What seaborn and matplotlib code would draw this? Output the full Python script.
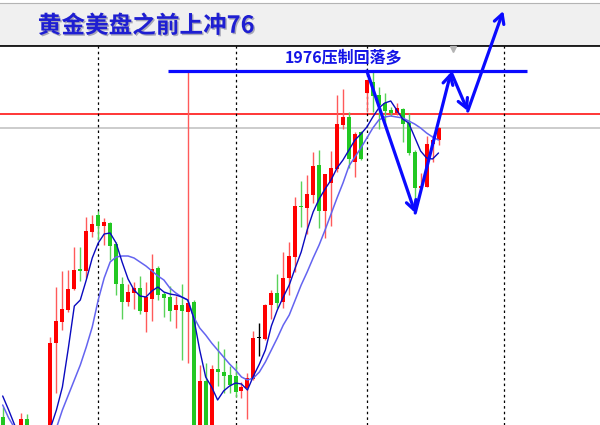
import numpy as np
import pandas as pd

import matplotlib
matplotlib.use("Agg")
import matplotlib.pyplot as plt
import matplotlib.patheffects as pe
import seaborn as sns

#####################################
### DATA
#####################################
opens = [1889.5, 1886.25, 1883.75, 1885.75, 1889.0, 1885.75, 1882.25, 1883.75, 1882.25, 1908.0,
         1913.25, 1916.25, 1921.5, 1926.5, 1926.0, 1935.75, 1940.0, 1937.25, 1938.0, 1932.75,
         1922.75, 1918.25, 1920.5, 1921.75, 1915.75, 1919.0, 1926.75, 1920.25, 1919.5, 1916.25,
         1917.5, 1915.75, 1918.25, 1883.75, 1898.5, 1883.75, 1901.5, 1900.75, 1900.0, 1899.75,
         1896.0, 1896.75, 1899.0, 1909.25, 1909.0, 1917.5, 1920.5, 1918.25, 1924.25, 1929.5,
         1942.25, 1941.75, 1945.0, 1952.5, 1941.0, 1948.0, 1951.5, 1962.5, 1964.5, 1953.25,
         1960.75, 1970.5, 1973.25, 1970.0, 1968.0, 1966.25, 1965.5, 1966.5, 1963.0, 1955.75,
         1946.75, 1947.0, 1957.75, 1958.75]
highs = [1892.0, 1887.0, 1885.75, 1890.5, 1890.25, 1886.75, 1884.75, 1885.5, 1909.5, 1922.0,
         1926.0, 1926.25, 1932.0, 1932.0, 1939.5, 1940.0, 1941.0, 1939.25, 1938.25, 1933.25,
         1924.5, 1922.75, 1923.25, 1924.75, 1923.25, 1930.25, 1927.25, 1920.75, 1922.25, 1919.75,
         1922.75, 1976.0, 1918.75, 1902.5, 1903.0, 1902.5, 1908.5, 1906.5, 1902.25, 1903.0,
         1898.25, 1900.5, 1911.0, 1913.0, 1917.75, 1921.25, 1925.25, 1930.75, 1933.25, 1944.5,
         1948.5, 1950.0, 1955.75, 1956.25, 1950.25, 1956.0, 1970.0, 1971.5, 1965.75, 1960.75,
         1961.0, 1973.75, 1975.75, 1972.0, 1970.5, 1967.0, 1968.0, 1966.75, 1965.5, 1956.25,
         1950.5, 1959.75, 1960.0, 1962.0]
lows = [1885.0, 1882.25, 1881.25, 1884.25, 1884.75, 1880.75, 1879.25, 1880.75, 1881.25, 1895.5,
        1911.25, 1915.75, 1921.25, 1923.5, 1924.25, 1934.5, 1933.75, 1932.5, 1928.75, 1920.0,
        1914.0, 1917.25, 1916.5, 1915.25, 1910.75, 1913.5, 1918.75, 1914.5, 1913.5, 1911.75,
        1903.75, 1903.0, 1881.25, 1881.75, 1881.25, 1881.75, 1897.25, 1895.5, 1895.5, 1894.5,
        1894.25, 1889.0, 1898.75, 1904.75, 1908.75, 1914.0, 1916.75, 1916.75, 1920.0, 1925.75,
        1937.0, 1935.25, 1943.0, 1936.75, 1934.25, 1937.25, 1950.75, 1961.5, 1951.75, 1949.5,
        1953.75, 1965.75, 1965.75, 1961.5, 1962.5, 1964.75, 1965.0, 1958.25, 1955.0, 1943.75,
        1946.75, 1947.0, 1953.25, 1957.5]
closes = [1886.25, 1883.75, 1884.75, 1889.0, 1885.75, 1882.25, 1883.75, 1882.25, 1908.0, 1913.5,
          1916.5, 1921.5, 1926.25, 1926.0, 1936.0, 1937.75, 1937.25, 1938.25, 1932.25, 1922.75,
          1918.25, 1920.75, 1921.75, 1916.0, 1919.5, 1926.5, 1920.0, 1919.25, 1916.0, 1917.5,
          1916.0, 1918.0, 1883.75, 1898.5, 1883.75, 1901.5, 1900.75, 1899.75, 1897.5, 1895.75,
          1897.0, 1899.25, 1909.25, 1909.25, 1917.5, 1920.5, 1918.0, 1924.25, 1929.75, 1942.25,
          1942.0, 1945.25, 1952.25, 1941.0, 1950.25, 1951.75, 1962.75, 1964.5, 1954.0, 1960.25,
          1954.0, 1973.75, 1969.75, 1967.5, 1966.0, 1965.5, 1966.75, 1962.75, 1955.5, 1946.75,
          1947.25, 1957.75, 1958.75, 1961.75]
ma_fast = [1894.75, 1891.25, 1887.5, 1885.0, 1883.75, 1882.5, 1882.5, 1883.75, 1886.75, 1891.25,
           1897.0, 1906.75, 1917.25, 1918.75, 1923.75, 1929.25, 1933.0, 1935.25, 1935.5, 1933.0,
           1928.25, 1924.0, 1921.25, 1919.75, 1919.5, 1921.0, 1922.0, 1920.75, 1920.25, 1920.0,
           1919.5, 1918.75, 1914.25, 1906.25, 1899.5, 1897.0, 1893.75, 1896.0, 1897.25, 1898.0,
           1897.75, 1896.25, 1899.75, 1902.75, 1906.25, 1912.25, 1916.25, 1919.5, 1922.5, 1926.75,
           1930.75, 1936.25, 1940.75, 1944.0, 1946.5, 1948.75, 1951.75, 1953.75, 1956.25, 1958.75,
           1960.25, 1962.0, 1964.5, 1966.75, 1968.0, 1968.5, 1966.25, 1964.0, 1963.0, 1959.5,
           1956.0, 1954.25, 1954.0, 1955.5]
ma_slow = [1892.5, 1889.25, 1886.75, 1885.0, 1883.75, 1882.5, 1881.75, 1881.75, 1883.75, 1886.75,
           1891.25, 1895.0, 1898.75, 1902.5, 1907.0, 1912.0, 1918.75, 1924.25, 1928.25, 1929.5,
           1929.75, 1929.75, 1929.25, 1928.25, 1927.25, 1926.0, 1924.75, 1923.75, 1921.75, 1920.5,
           1919.5, 1918.75, 1914.5, 1911.75, 1910.0, 1908.0, 1906.25, 1904.5, 1902.75, 1901.25,
           1899.5, 1898.75, 1899.25, 1900.75, 1903.25, 1906.25, 1909.25, 1912.5, 1915.0, 1918.75,
           1922.5, 1925.75, 1929.25, 1932.5, 1936.25, 1940.25, 1944.25, 1948.0, 1952.25, 1954.5,
           1956.75, 1959.25, 1961.75, 1963.75, 1964.5, 1964.75, 1964.5, 1964.25, 1963.5, 1962.75,
           1961.75, 1960.5, 1959.5, 1958.75]

resist_level = 1976.0
resist_from, resist_to = 27.7, 87.8
red_level = 1965.25
last_price = 1961.75
separators = [16, 39, 61, 84]

# hand drawn forecast path (bar, price)
path_bar = [61.0, 69.1, 75.1, 77.9, 83.85]
path_price = [1976.0, 1940.5, 1975.75, 1966.0, 1991.0]

title_text = "黄金美盘之前上冲76"
note_text = "1976压制回落多"
note_pos = (57.1, 1979.3)

#####################################
### DATA CLEAN
#####################################
df = pd.DataFrame({"open": opens, "high": highs, "low": lows, "close": closes,
                   "ma_fast": ma_fast, "ma_slow": ma_slow})
df["bar"] = np.arange(len(df))
df["body_lo"] = df[["open", "close"]].min(axis=1)
df["body_h"] = (df["close"] - df["open"]).abs().clip(lower=0.3)
df["col"] = np.where(df["close"] > df["open"], "#ff0000",
                     np.where(df["close"] < df["open"], "#22c822", "#000000"))
df["wick"] = np.where(df["close"] > df["open"], "#ff5a5a",
                      np.where(df["close"] < df["open"], "#5ad25a", "#000000"))

#####################################
### PLOT BUILD
#####################################
sns.set_style("white")
plt.rcParams['font.family'] = ['Noto Sans CJK SC', 'DejaVu Sans']

fig = plt.figure(figsize=(6, 4.25), dpi=100)
ax_t = fig.add_axes([0, 379 / 425, 1, 43 / 425])
ax = fig.add_axes([0, 0, 1, 379 / 425])
ax_t.set_zorder(1)
ax.set_zorder(2)

# title bar
ax_t.set_facecolor("#f0f0f0")
ax_t.set_xticks([])
ax_t.set_yticks([])
for s in ["left", "right"]:
    ax_t.spines[s].set_visible(False)
ax_t.spines["top"].set_color("#b4b4b4")
ax_t.spines["bottom"].set_color("#a8a8a8")
ax_t.spines["bottom"].set_linewidth(2)
ax_t.text(0.063, 0.47, title_text, transform=ax_t.transAxes, ha="left", va="center",
          fontsize=17, fontweight="bold", color="#1e1ed2",
          path_effects=[pe.withSimplePatchShadow(offset=(1, -1), shadow_rgbFace="#606080", alpha=0.5)])

# candles
ax.vlines(df["bar"], df["low"], df["high"], colors=df["wick"], lw=1, zorder=2)
ax.bar(df["bar"], df["body_h"], bottom=df["body_lo"], width=0.67, color=df["col"],
       linewidth=0, zorder=3)

# moving averages
sns.lineplot(data=df, x="bar", y="ma_slow", ax=ax, color="#6464f0", lw=1.1, zorder=4)
sns.lineplot(data=df, x="bar", y="ma_fast", ax=ax, color="#0a0ac0", lw=1.0, zorder=4)

# levels and separators
ax.axhline(red_level, color="#ff0000", lw=1.1, zorder=1)
ax.axhline(last_price, color="#c8c8c8", lw=1.3, zorder=1)
for s in separators:
    ax.axvline(s, color="black", ls=(0, (2, 2.5)), lw=0.9, zorder=1)
ax.hlines(resist_level, resist_from, resist_to, color="#0a0aff", lw=2.3, zorder=5)

# forecast path arrows
for x0, y0, x1, y1 in zip(path_bar[:-1], path_price[:-1], path_bar[1:], path_price[1:]):
    ax.annotate("", xy=(x1, y1), xytext=(x0, y0), annotation_clip=False,
                arrowprops=dict(arrowstyle="->,head_length=0.55,head_width=0.3",
                                color="#0a0aff", lw=2.3, shrinkA=0, shrinkB=0,
                                mutation_scale=12), zorder=6)

ax.text(note_pos[0], note_pos[1], note_text, ha="center", va="center", fontsize=11.5,
        fontweight="bold", color="#1414e6", zorder=6)
ax.plot([75.4], [1981.6], marker="v", ms=4, color="#b4b4b4", clip_on=False, zorder=6)

ax.set_xlim(-0.45, 100.05)
ax.set_ylim(1887.5, 1982.25)
ax.set_xticks([])
ax.set_yticks([])
ax.set_xlabel("")
ax.set_ylabel("")
for s in ["left", "right", "bottom"]:
    ax.spines[s].set_visible(False)
ax.spines["top"].set_color("black")
ax.spines["top"].set_linewidth(1.2)

fig.savefig("out.png", dpi=100)
plt.close()
